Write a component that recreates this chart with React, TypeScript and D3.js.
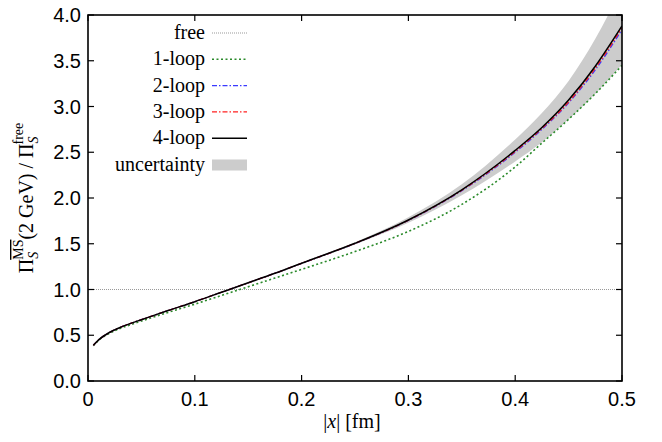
import React from "react";
import * as d3 from "d3";

const xs = [0.005, 0.01, 0.02, 0.03, 0.04, 0.05, 0.075, 0.1, 0.125, 0.15, 0.175, 0.2, 0.25, 0.3, 0.35, 0.4, 0.425, 0.45, 0.475, 0.5];
const loop1 = [0.385, 0.445, 0.52, 0.575, 0.615, 0.655, 0.75, 0.84, 0.935, 1.03, 1.125, 1.22, 1.415, 1.635, 1.93, 2.34, 2.6, 2.86, 3.14, 3.45];
const loop2 = [0.39, 0.45, 0.53, 0.585, 0.63, 0.67, 0.77, 0.867, 0.97, 1.073, 1.177, 1.285, 1.503, 1.755, 2.08, 2.50, 2.75, 3.04, 3.40, 3.84];
const loop3 = [0.39, 0.45, 0.53, 0.585, 0.63, 0.67, 0.77, 0.867, 0.97, 1.073, 1.177, 1.286, 1.504, 1.757, 2.085, 2.51, 2.76, 3.05, 3.42, 3.86];
const loop4 = [0.39, 0.45, 0.53, 0.585, 0.63, 0.67, 0.77, 0.867, 0.97, 1.073, 1.177, 1.287, 1.505, 1.76, 2.09, 2.52, 2.77, 3.07, 3.44, 3.88];
const uncLow = [0.39, 0.45, 0.53, 0.585, 0.63, 0.67, 0.77, 0.865, 0.967, 1.069, 1.172, 1.281, 1.493, 1.73, 2.03, 2.40, 2.61, 2.86, 3.14, 3.46];
const uncHigh = [0.39, 0.45, 0.53, 0.585, 0.63, 0.67, 0.77, 0.869, 0.973, 1.077, 1.182, 1.293, 1.517, 1.79, 2.15, 2.64, 2.93, 3.28, 3.74, 4.30];
const freeValue = 1.0;

const xTicks = [0, 0.1, 0.2, 0.3, 0.4, 0.5];
const xTickLabels = ["0", "0.1", "0.2", "0.3", "0.4", "0.5"];
const yTicks = [0, 0.5, 1, 1.5, 2, 2.5, 3, 3.5, 4];
const yTickLabels = ["0.0", "0.5", "1.0", "1.5", "2.0", "2.5", "3.0", "3.5", "4.0"];
const legendLabels = ["free", "1-loop", "2-loop", "3-loop", "4-loop", "uncertainty"];

const W = 662, H = 442;
const L = 88, R = 622, T = 15, B = 381;

export default function App() {
  const x = d3.scaleLinear().domain([0, 0.5]).range([L, R]);
  const y = d3.scaleLinear().domain([0, 4]).range([B, T]);
  const line = (vals: number[]) =>
    d3.line<number>().x((_, i) => x(xs[i])).y((v) => y(v)).curve(d3.curveMonotoneX)(vals) || "";
  const area = d3.area<number>()
    .x((_, i) => x(xs[i]))
    .y0((_, i) => y(uncLow[i]))
    .y1((_, i) => y(uncHigh[i]))
    .curve(d3.curveMonotoneX)(xs.map((_, i) => i)) || "";

  const series = [
    { vals: null as number[] | null, stroke: "#999999", dash: "1,1", w: 1 },
    { vals: loop1, stroke: "#2a8a2a", dash: "2,2.5", w: 1.6 },
    { vals: loop2, stroke: "#3a3aff", dash: "5,2,1.5,2", w: 1.3 },
    { vals: loop3, stroke: "#ff2020", dash: "5,2,1.5,2", w: 1.3 },
    { vals: loop4, stroke: "#000000", dash: "", w: 1.5 },
  ];
  const legY0 = 33, legDy = 26.3;
  const serif = "'Liberation Serif', 'DejaVu Serif', serif";
  const sans = "'Liberation Sans', Arial, sans-serif";

  return (
    <svg width={W} height={H} style={{ position: "absolute", left: 0, top: 0, background: "#fff" }}>
      <defs>
        <clipPath id="plot">
          <rect x={L} y={T} width={R - L} height={B - T} />
        </clipPath>
      </defs>
      <g clipPath="url(#plot)">
        <path d={area} fill="#cccccc" stroke="none" />
        <line x1={x(0)} x2={x(0.5)} y1={y(freeValue)} y2={y(freeValue)} stroke="#999999" strokeDasharray="1,1" strokeWidth={1} />
        {series.slice(1).map((s, i) => (
          <path key={i} d={line(s.vals as number[])} fill="none" stroke={s.stroke} strokeWidth={s.w} strokeDasharray={s.dash} />
        ))}
      </g>
      {xTicks.map((t, i) => (
        <g key={"xt" + i}>
          <line x1={x(t)} x2={x(t)} y1={B} y2={B - 6} stroke="#000" strokeWidth={1.2} />
          <line x1={x(t)} x2={x(t)} y1={T} y2={T + 6} stroke="#000" strokeWidth={1.2} />
          <text x={x(t)} y={406} textAnchor="middle" fontFamily={sans} fontSize={20} fill="#000">{xTickLabels[i]}</text>
        </g>
      ))}
      {yTicks.map((t, i) => (
        <g key={"yt" + i}>
          <line x1={L} x2={L + 6} y1={y(t)} y2={y(t)} stroke="#000" strokeWidth={1.2} />
          <line x1={R} x2={R - 6} y1={y(t)} y2={y(t)} stroke="#000" strokeWidth={1.2} />
          <text x={81} y={y(t) + 7} textAnchor="end" fontFamily={sans} fontSize={20} fill="#000">{yTickLabels[i]}</text>
        </g>
      ))}
      <rect x={L} y={T} width={R - L} height={B - T} fill="none" stroke="#000" strokeWidth={1.6} />
      {legendLabels.map((lab, i) => {
        const ly = legY0 + i * legDy;
        return (
          <g key={"lg" + i}>
            <text x={205} y={ly + 6} textAnchor="end" fontFamily={serif} fontSize={20} fill="#000">{lab}</text>
            {i < 5 ? (
              <line x1={212} x2={247} y1={ly} y2={ly} stroke={series[i].stroke} strokeWidth={series[i].w} strokeDasharray={series[i].dash} />
            ) : (
              <rect x={212} y={ly - 5} width={35} height={11} fill="#cccccc" />
            )}
          </g>
        );
      })}
      <text x={352} y={428} textAnchor="middle" fontFamily={serif} fontSize={20} fill="#000">
        |<tspan fontStyle="italic">x</tspan>| [fm]
      </text>
      <text transform="translate(33,198) rotate(-90)" textAnchor="middle" fontFamily={serif} fontSize={20} fill="#000">
        Π<tspan fontSize={14} fontStyle="italic" dy={5}>S</tspan>
        <tspan fontSize={14} dx={-8} dy={-15} textDecoration="overline">MS</tspan>
        <tspan dy={10}>(2 GeV) / Π</tspan>
        <tspan fontSize={14} fontStyle="italic" dy={5}>S</tspan>
        <tspan fontSize={14} dx={-8} dy={-15}>free</tspan>
      </text>
    </svg>
  );
}
